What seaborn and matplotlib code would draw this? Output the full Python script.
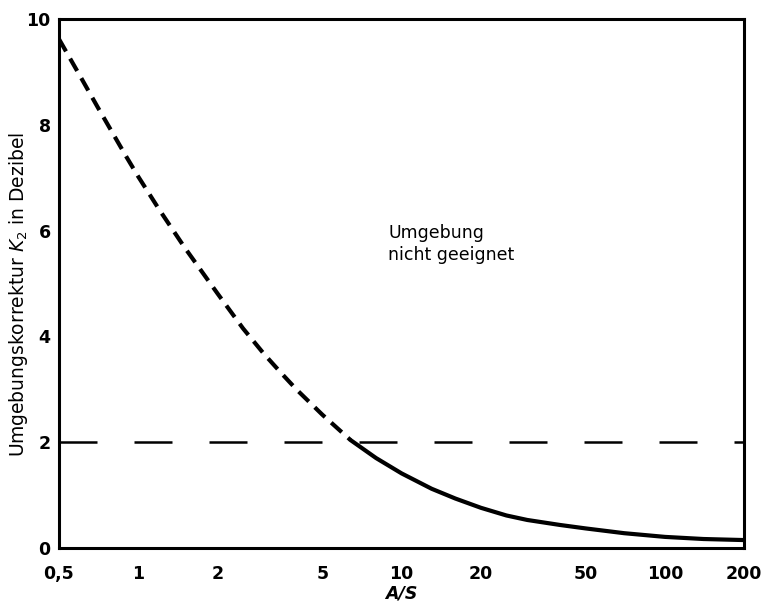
import matplotlib
matplotlib.use("Agg")
import matplotlib.pyplot as plt
import pandas as pd
import seaborn as sns

# values
ratio = [0.5, 0.6, 0.7, 0.8, 0.9, 1.0, 1.2, 1.5, 2.0, 2.5, 3.0, 3.5, 4.0, 5.0, 6.4,
         8, 10, 13, 16, 20, 25, 30, 40, 50, 70, 100, 140, 200]
k2 = [9.62, 8.93, 8.34, 7.84, 7.4, 7.02, 6.4, 5.68, 4.81, 4.15, 3.67, 3.3, 2.99, 2.52, 2.04,
      1.7, 1.41, 1.12, 0.935, 0.76, 0.615, 0.53, 0.435, 0.37, 0.28, 0.21, 0.17, 0.15]
limit_k2 = 2.0
split_ratio = 6.4

x_ticks = [0.5, 1, 2, 5, 10, 20, 50, 100, 200]
x_tick_labels = ["0,5", "1", "2", "5", "10", "20", "50", "100", "200"]
y_ticks = [0, 2, 4, 6, 8, 10]
y_minor = [1, 3, 5, 7, 9]

df = pd.DataFrame({"ratio": ratio, "k2": k2})
dashed_part = df[df["ratio"] <= split_ratio]
solid_part = df[df["ratio"] >= split_ratio]

sns.set_theme(style="white")
plt.rcParams['font.family'] = ['DejaVu Sans']
plt.rcParams['text.color'] = 'black'
plt.rcParams['axes.labelcolor'] = 'black'

fig = plt.figure(figsize=(7.61, 6.06), dpi=100)
ax = fig.add_axes([0.0775, 0.0957, 0.9005, 0.873])

sns.lineplot(data=dashed_part, x="ratio", y="k2", ax=ax, color="black",
             linewidth=3.0, linestyle=(0, (3.4, 2.0)), sort=False)
sns.lineplot(data=solid_part, x="ratio", y="k2", ax=ax, color="black",
             linewidth=3.0, sort=False)
ax.axhline(limit_k2, color="black", linewidth=1.8, linestyle=(0, (15.2, 14.8)))

ax.set_xscale("log")
ax.set_xlim(0.5, 200)
ax.set_ylim(0, 10)
ax.set_xticks(x_ticks)
ax.set_xticklabels(x_tick_labels)
ax.xaxis.set_minor_locator(matplotlib.ticker.NullLocator())
ax.set_yticks(y_ticks)
ax.set_yticks(y_minor, minor=True)

ax.tick_params(axis="both", which="both", direction="in", length=7, width=1.5,
               color="black", labelsize=12.5, labelcolor="black")
ax.tick_params(axis="x", pad=12)
ax.tick_params(axis="y", pad=6)
for lab in ax.get_xticklabels() + ax.get_yticklabels():
    lab.set_fontweight("bold")

for sp in ax.spines.values():
    sp.set_color("black")
    sp.set_linewidth(2.2)

ax.set_xlabel("A/S", fontsize=12.5, fontweight="bold", style="italic", labelpad=1)
ax.set_ylabel("Umgebungskorrektur $K_2$ in Dezibel", fontsize=13.5)
ax.yaxis.set_label_coords(-0.043, 0.48)

ax.text(8.9, 5.75, "Umgebung\nnicht geeignet", fontsize=12.5, ha="left",
        va="center", linespacing=1.3)

fig.savefig("out.png", dpi=100)
